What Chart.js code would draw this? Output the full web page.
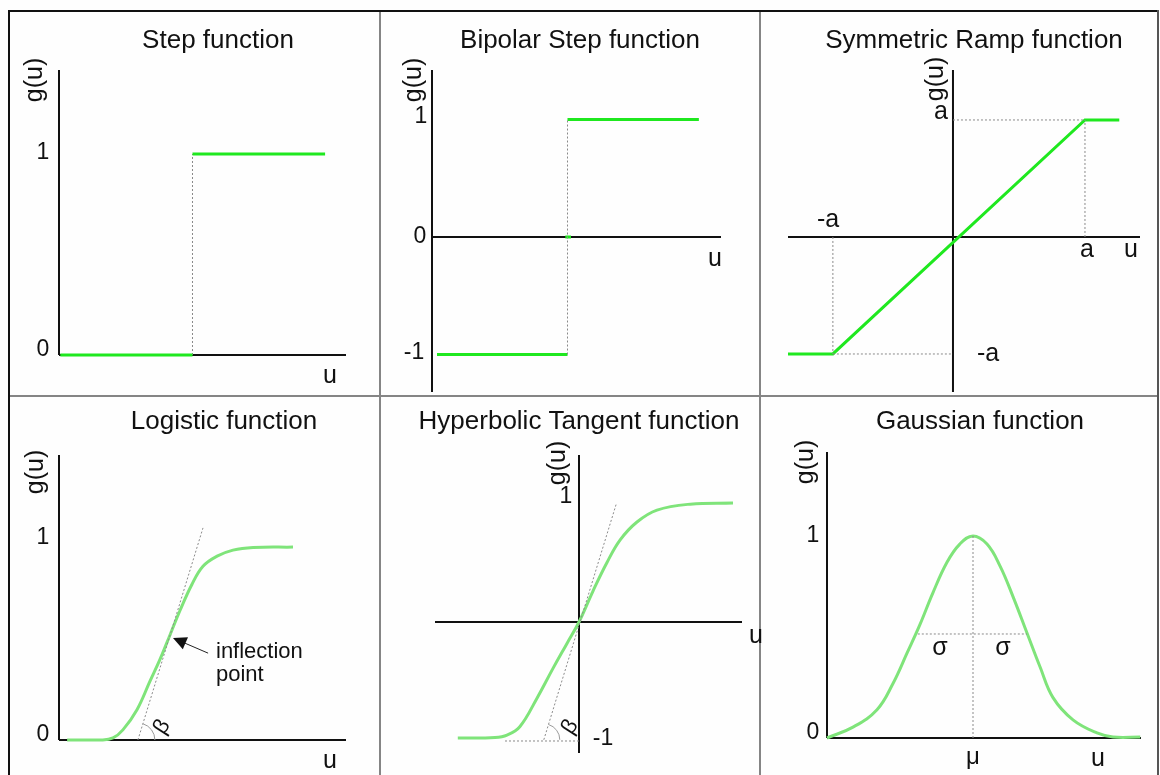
<!DOCTYPE html>
<html>
<head>
<meta charset="utf-8">
<title>Activation functions</title>
<script src="https://cdn.jsdelivr.net/npm/chart.js@4.4.0/dist/chart.umd.min.js"></script>
<style>
  html, body { margin: 0; padding: 0; background: #ffffff; }
  #stage { position: relative; width: 1160px; height: 775px; overflow: hidden; background: #fefefe; }
  #stage canvas { position: absolute; left: 0; top: 0; }
  .rule { position: absolute; }
</style>
</head>
<body>
<div id="stage">
  <div class="rule" style="left:8px;top:10px;width:1151px;height:2px;background:#111"></div>
  <div class="rule" style="left:8px;top:10px;width:2px;height:765px;background:#111"></div>
  <div class="rule" style="left:1157px;top:10px;width:2px;height:765px;background:#555"></div>
  <div class="rule" style="left:379px;top:12px;width:2px;height:763px;background:#858585"></div>
  <div class="rule" style="left:759px;top:12px;width:2px;height:763px;background:#858585"></div>
  <div class="rule" style="left:10px;top:395px;width:1147px;height:2px;background:#858585"></div>
  <canvas id="c1" width="1160" height="775"></canvas>
  <canvas id="c2" width="1160" height="775"></canvas>
  <canvas id="c3" width="1160" height="775"></canvas>
  <canvas id="c4" width="1160" height="775"></canvas>
  <canvas id="c5" width="1160" height="775"></canvas>
  <canvas id="c6" width="1160" height="775"></canvas>
</div>
<script>
// Values (u on the horizontal axis, g(u) on the vertical one)

// Step function
const stepLowU = [-2.97, 0];
const stepLowG = [0, 0];
const stepHighU = [0, 2.98];
const stepHighG = [1, 1];
const stepDropU = [0, 0];
const stepDropG = [0, 1];

// Bipolar step function
const bipolarLowU = [-3, 0];
const bipolarLowG = [-1, -1];
const bipolarHighU = [0, 3.02];
const bipolarHighG = [1, 1];
const bipolarZeroU = [-0.05, 0.08];
const bipolarZeroG = [0, 0];
const bipolarDropU = [0, 0];
const bipolarDropG = [-1, 1];

// Symmetric ramp function
const rampU = [-1.25, -0.91, 1, 1.26];
const rampG = [-1, -1, 1, 1];
const rampGuideU = [[0, 1], [1, 1], [-0.91, -0.91], [-0.91, 0]];
const rampGuideG = [[1, 1], [0, 1], [0, -1], [-1, -1]];

// Logistic function
const logisticU = [-3.43, -2.3, -1.9, -1.57, -1.1, -0.67, -0.33, 0, 0.33, 0.73, 1.1, 1.57, 2.1, 2.77, 4.1];
const logisticG = [0, 0, 0.01, 0.05, 0.15, 0.29, 0.40, 0.52, 0.64, 0.77, 0.86, 0.91, 0.94, 0.953, 0.955];
const logisticTangentU = [-1.07, 1.1];
const logisticTangentG = [0, 1.05];

// Hyperbolic tangent function
const tanhU = [-3.03, -2.1, -1.8, -1.48, -1.05, -0.65, -0.3, 0, 0.35, 0.7, 1.03, 1.45, 1.95, 2.78, 3.85];
const tanhG = [-0.975, -0.97, -0.95, -0.88, -0.64, -0.39, -0.18, 0, 0.26, 0.5, 0.69, 0.84, 0.94, 0.99, 1.0];
const tanhTangentU = [-0.88, 0.93];
const tanhTangentG = [-0.99, 0.99];
const tanhFloorU = [-1.85, 0];
const tanhFloorG = [-1, -1];

// Gaussian function
const gaussU = [-3.65, -3.0, -2.4, -2.0, -1.65, -1.33, -1.0, -0.65, -0.33, 0, 0.35, 0.68, 1.0, 1.35, 1.68, 2.0, 2.5, 3.1, 3.5, 4.18];
const gaussG = [0, 0.054, 0.14, 0.27, 0.42, 0.56, 0.72, 0.87, 0.96, 1.0, 0.96, 0.85, 0.70, 0.52, 0.35, 0.20, 0.09, 0.025, 0.005, 0.005];
const gaussWidthU = [-1.38, 1.35];
const gaussWidthG = [0.515, 0.515];
const gaussMeanU = [0, 0];
const gaussMeanG = [0, 1];

const W = 1160, H = 775;
const FONT = '"Liberation Sans", Arial, Helvetica, sans-serif';
const colors = {
    step: '#1fe81f',
    curve: '#7fe47a',
    axis: '#111111',
    guide: '#8a8a8a',
    text: '#111111'
};

function pts(us, gs) {
    return us.map((u, i) => ({ x: u, y: gs[i] }));
}

function solid(us, gs, color, smooth) {
    return {
        data: pts(us, gs),
        borderColor: color,
        borderWidth: 3,
        pointRadius: 0,
        clip: false,
        tension: smooth ? 0.4 : 0
    };
}

function dotted(us, gs) {
    return {
        data: pts(us, gs),
        borderColor: colors.guide,
        borderWidth: 1,
        borderDash: [2, 2],
        pointRadius: 0,
        clip: false
    };
}

function label(t, x, y, opts) {
    return Object.assign({ t: t, x: x, y: y, size: 24, rot: 0, align: 'center', base: 'middle' }, opts || {});
}

function title(t, x, y) {
    return label(t, x, y, { size: 26, base: 'alphabetic' });
}

const panels = [
    {
        id: 'c1',
        area: { left: 59, top: 70, right: 346, bottom: 355 },
        x: [-3, 3.45], y: [0, 1.418],
        hAxisAt: 0, vAxisAt: -3,
        datasets: [
            solid(stepLowU, stepLowG, colors.step),
            solid(stepHighU, stepHighG, colors.step),
            dotted(stepDropU, stepDropG)
        ],
        texts: [
            title('Step function', 218, 48),
            label('g(u)', 35, 80, { size: 25, rot: -Math.PI / 2 }),
            label('1', 43, 153, { size: 23 }),
            label('0', 43, 350, { size: 23 }),
            label('u', 330, 376, { size: 25 })
        ]
    },
    {
        id: 'c2',
        area: { left: 432, top: 70, right: 721, bottom: 392 },
        x: [-3.115, 3.529], y: [-1.319, 1.421],
        hAxisAt: 0, vAxisAt: -3.115,
        datasets: [
            dotted(bipolarDropU, bipolarDropG),
            solid(bipolarLowU, bipolarLowG, colors.step),
            solid(bipolarHighU, bipolarHighG, colors.step),
            solid(bipolarZeroU, bipolarZeroG, colors.step)
        ],
        texts: [
            title('Bipolar Step function', 580, 48),
            label('g(u)', 414, 80, { size: 25, rot: -Math.PI / 2 }),
            label('1', 421, 117, { size: 23 }),
            label('0', 420, 237, { size: 23 }),
            label('-1', 414, 353, { size: 23 }),
            label('u', 715, 259, { size: 25 })
        ]
    },
    {
        id: 'c3',
        area: { left: 788, top: 70, right: 1140, bottom: 392 },
        x: [-1.25, 1.417], y: [-1.325, 1.427],
        hAxisAt: 0, vAxisAt: 0,
        datasets: rampGuideU.map((u, i) => dotted(u, rampGuideG[i]))
            .concat([solid(rampU, rampG, colors.step)]),
        texts: [
            title('Symmetric Ramp function', 974, 48),
            label('g(u)', 936, 79, { size: 25, rot: -Math.PI / 2 }),
            label('a', 941, 112, { size: 25 }),
            label('-a', 828, 220, { size: 25 }),
            label('a', 1087, 250, { size: 25 }),
            label('u', 1131, 250, { size: 25 }),
            label('-a', 988, 354, { size: 25 })
        ]
    },
    {
        id: 'c4',
        area: { left: 59, top: 455, right: 346, bottom: 740 },
        x: [-3.7, 5.867], y: [0, 1.411],
        hAxisAt: 0, vAxisAt: -3.7,
        datasets: [
            dotted(logisticTangentU, logisticTangentG),
            solid(logisticU, logisticG, colors.curve, true)
        ],
        tangent: { u: logisticTangentU, g: logisticTangentG, r: 17 },
        arrow: { from: [1.27, 0.43], to: [0.1, 0.505] },
        texts: [
            title('Logistic function', 224, 429),
            label('g(u)', 36, 472, { size: 25, rot: -Math.PI / 2 }),
            label('1', 43, 538, { size: 23 }),
            label('0', 43, 735, { size: 23 }),
            label('u', 330, 761, { size: 25 }),
            label('inflection', 216, 658, { size: 22, align: 'left', base: 'alphabetic' }),
            label('point', 216, 681, { size: 22, align: 'left', base: 'alphabetic' }),
            label('\u03B2', 162, 727, { size: 22, rot: -1.0 })
        ]
    },
    {
        id: 'c5',
        area: { left: 435, top: 455, right: 742, bottom: 753 },
        x: [-3.6, 4.075], y: [-1.101, 1.403],
        hAxisAt: 0, vAxisAt: 0,
        datasets: [
            dotted(tanhFloorU, tanhFloorG),
            dotted(tanhTangentU, tanhTangentG),
            solid(tanhU, tanhG, colors.curve, true)
        ],
        tangent: { u: tanhTangentU, g: tanhTangentG, r: 16 },
        texts: [
            title('Hyperbolic Tangent function', 579, 429),
            label('g(u)', 558, 463, { size: 25, rot: -Math.PI / 2 }),
            label('1', 566, 497, { size: 23 }),
            label('-1', 603, 739, { size: 23 }),
            label('u', 756, 636, { size: 25 }),
            label('\u03B2', 570, 727, { size: 22, rot: -1.0 })
        ]
    },
    {
        id: 'c6',
        area: { left: 827, top: 452, right: 1141, bottom: 738 },
        x: [-3.65, 4.2], y: [0, 1.416],
        hAxisAt: 0, vAxisAt: -3.65,
        datasets: [
            dotted(gaussWidthU, gaussWidthG),
            dotted(gaussMeanU, gaussMeanG),
            solid(gaussU, gaussG, colors.curve, true)
        ],
        texts: [
            title('Gaussian function', 980, 429),
            label('g(u)', 806, 462, { size: 25, rot: -Math.PI / 2 }),
            label('1', 813, 536, { size: 23 }),
            label('0', 813, 733, { size: 23 }),
            label('\u03C3', 940, 648, { size: 25 }),
            label('\u03C3', 1003, 648, { size: 25 }),
            label('\u03BC', 973, 757, { size: 24 }),
            label('u', 1098, 759, { size: 25 })
        ]
    }
];

// Draws the two axis lines of a panel before the series go on top
const axesPlugin = {
    id: 'panelAxes',
    beforeDatasetsDraw(chart) {
        const p = chart.options.plugins.panelAxes;
        const xs = chart.scales.x, ys = chart.scales.y;
        const ctx = chart.ctx;
        ctx.save();
        ctx.strokeStyle = colors.axis;
        ctx.lineWidth = 2;
        ctx.beginPath();
        const hy = ys.getPixelForValue(p.hAxisAt);
        ctx.moveTo(xs.getPixelForValue(xs.min), hy);
        ctx.lineTo(xs.getPixelForValue(xs.max), hy);
        const vx = xs.getPixelForValue(p.vAxisAt);
        ctx.moveTo(vx, ys.getPixelForValue(ys.min));
        ctx.lineTo(vx, ys.getPixelForValue(ys.max));
        ctx.stroke();
        ctx.restore();
    }
};

// Angle marks, arrow and all the text of a panel
const notesPlugin = {
    id: 'panelNotes',
    afterDatasetsDraw(chart) {
        const p = chart.options.plugins.panelNotes;
        const xs = chart.scales.x, ys = chart.scales.y;
        const ctx = chart.ctx;
        ctx.save();

        if (p.tangent) {
            const x0 = xs.getPixelForValue(p.tangent.u[0]);
            const y0 = ys.getPixelForValue(p.tangent.g[0]);
            const x1 = xs.getPixelForValue(p.tangent.u[1]);
            const y1 = ys.getPixelForValue(p.tangent.g[1]);
            const ang = Math.atan2(y1 - y0, x1 - x0);
            ctx.strokeStyle = '#9a9a9a';
            ctx.lineWidth = 1;
            ctx.beginPath();
            ctx.arc(x0, y0, p.tangent.r, ang, 0);
            ctx.stroke();
        }

        if (p.arrow) {
            const fx = xs.getPixelForValue(p.arrow.from[0]);
            const fy = ys.getPixelForValue(p.arrow.from[1]);
            const tx = xs.getPixelForValue(p.arrow.to[0]);
            const ty = ys.getPixelForValue(p.arrow.to[1]);
            const ang = Math.atan2(ty - fy, tx - fx);
            const len = 15, half = 0.45;
            ctx.strokeStyle = '#222';
            ctx.fillStyle = '#111';
            ctx.lineWidth = 1;
            ctx.beginPath();
            ctx.moveTo(fx, fy);
            ctx.lineTo(tx - Math.cos(ang) * len * 0.8, ty - Math.sin(ang) * len * 0.8);
            ctx.stroke();
            ctx.beginPath();
            ctx.moveTo(tx, ty);
            ctx.lineTo(tx - len * Math.cos(ang - half), ty - len * Math.sin(ang - half));
            ctx.lineTo(tx - len * Math.cos(ang + half), ty - len * Math.sin(ang + half));
            ctx.closePath();
            ctx.fill();
        }

        ctx.fillStyle = colors.text;
        p.texts.forEach(t => {
            ctx.save();
            ctx.font = t.size + 'px ' + FONT;
            ctx.textAlign = t.align;
            ctx.textBaseline = t.base;
            ctx.translate(t.x, t.y);
            if (t.rot) ctx.rotate(t.rot);
            ctx.fillText(t.t, 0, 0);
            ctx.restore();
        });
        ctx.restore();
    }
};

panels.forEach(panel => {
    const a = panel.area;
    new Chart(document.getElementById(panel.id), {
        type: 'line',
        data: { datasets: panel.datasets },
        options: {
            responsive: false,
            animation: false,
            events: [],
            devicePixelRatio: 1,
            layout: {
                padding: { left: a.left, top: a.top, right: W - a.right, bottom: H - a.bottom }
            },
            plugins: {
                legend: { display: false },
                tooltip: { enabled: false },
                panelAxes: { hAxisAt: panel.hAxisAt, vAxisAt: panel.vAxisAt },
                panelNotes: { texts: panel.texts, tangent: panel.tangent, arrow: panel.arrow }
            },
            scales: {
                x: { type: 'linear', display: false, min: panel.x[0], max: panel.x[1] },
                y: { type: 'linear', display: false, min: panel.y[0], max: panel.y[1] }
            }
        },
        plugins: [axesPlugin, notesPlugin]
    });
});
</script>
</body>
</html>
